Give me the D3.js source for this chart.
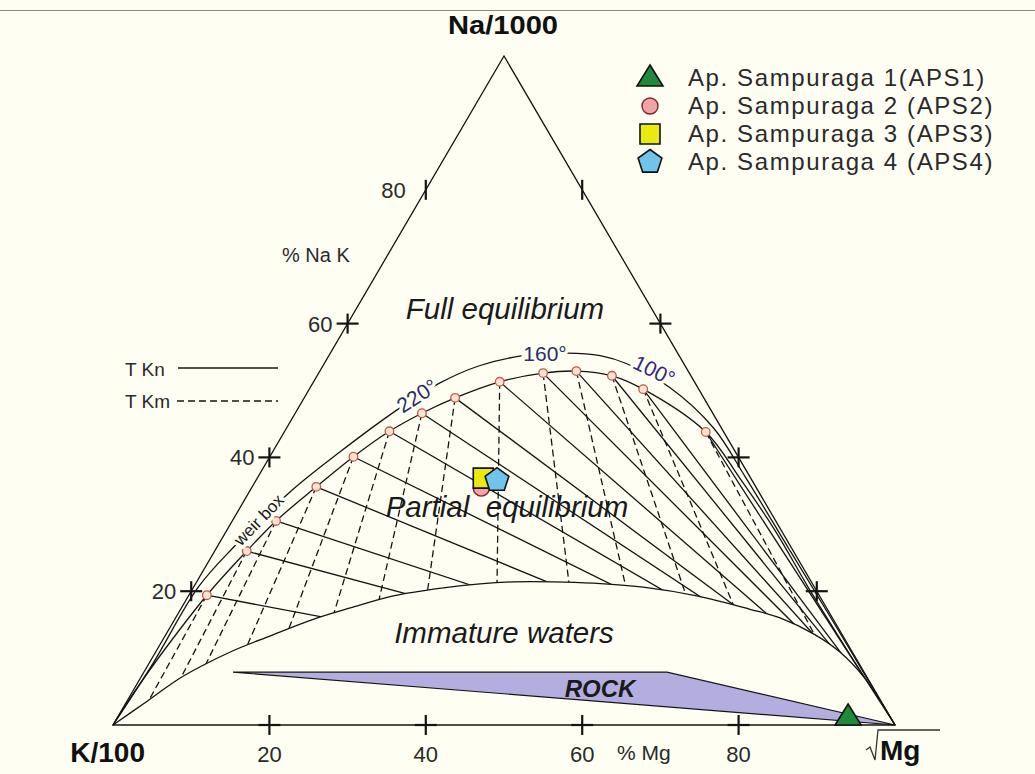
<!DOCTYPE html>
<html><head><meta charset="utf-8">
<script src="https://cdn.jsdelivr.net/npm/d3@7"></script>
<style>
body{margin:0;background:#fefef3;}
svg{display:block;font-family:"Liberation Sans",Arial,sans-serif;}
</style>
</head><body>
<svg id="chart" width="1035" height="774"></svg>
<script>
// ---------- data (ternary %: [Na, Mg], K = 100 - Na - Mg) ----------
const seriesNames = ["Ap. Sampuraga 1(APS1)", "Ap. Sampuraga 2 (APS2)", "Ap. Sampuraga 3 (APS3)", "Ap. Sampuraga 4 (APS4)"];
const sampleNa = [1.2, 35.4, 36.9, 36.6];
const sampleMg = [93.4, 29.4, 28.9, 30.8];
const sampleShapes = ["triangle", "circle", "square", "pentagon"];
const sampleFill = ["#1f8a3c", "#f4a3a3", "#eaea10", "#70c3ea"];

const tickValues = [20, 40, 60, 80];
const tickLabelsLeft = ["20", "40", "60", "80"];
const tickLabelsBottom = ["20", "40", "60", "80"];

// full equilibrium (T Kn / T Km grid nodes)
const eqMarkers = [
  [19.4, 2.3], [26.0, 4.1], [30.5, 5.6], [35.6, 8.2], [40.1, 10.7], [43.9, 13.4], [46.6, 16.2],
  [48.9, 19.3], [51.3, 23.8], [52.6, 28.7], [52.9, 32.8], [52.2, 37.7], [50.2, 42.7], [43.8, 53.9]
];
const eqCurveStart = [[0, 0], [2.8, 0.1], [5.4, 0.3], [10.8, 0.9]];
const eqCurveEnd = [[36.9, 61.7], [29.1, 70.1], [20.2, 79.0], [10.5, 89.0], [0, 100]];
// weir box curve
const weirCurve = [
  [0, 0], [9.0, 0.5], [20.6, 0.6], [26.5, 2.1], [34.8, 5.2], [40.8, 8.6], [47.4, 13.0], [51.1, 16.2],
  [53.7, 20.0], [55.2, 24.8], [55.6, 30.3], [55.2, 34.7], [54.0, 38.7], [50.5, 45.9], [44.4, 54.6],
  [36.9, 62.5], [26.2, 73.4], [16.4, 83.4], [8.2, 91.7], [0, 100]
];
// immature waters boundary
const immatureCurve = [
  [0, 0], [3.3, 2.4], [6.7, 4.8], [8.7, 6.8], [11.1, 9.8], [13.3, 13.4], [15.8, 17.7], [17.5, 21.6],
  [19.3, 26.2], [20.5, 32.0], [21.1, 36.4], [21.4, 40.5], [21.4, 45.6], [21.2, 50.8], [20.6, 57.5],
  [19.3, 65.0], [17.3, 72.8], [16.0, 77.3], [13.5, 83.0], [10.9, 87.5], [7.2, 92.4], [3.7, 96.2], [0, 100]
];
// rock dissolution field
const rockField = [[7.9, 11.4], [7.9, 66.9], [0, 100]];
// temperature labels on the weir box curve
const tempLabels = ["220°", "160°", "100°"];

// ---------- scales ----------
const svg = d3.select("#chart");
const BG = "#fefef3";
const xS = d3.scaleLinear().domain([0, 100]).range([113, 895]);
const yS = d3.scaleLinear().domain([0, 100]).range([725, 56]);
function T(p) {
  const na = p[0], mg = p[1], k = 100 - na - mg, s = na + mg + k;
  return [xS((mg + na / 2) * 100 / s), yS(na * 100 / s)];
}
const line = d3.line().x(d => T(d)[0]).y(d => T(d)[1]);
const curve = d3.line().x(d => T(d)[0]).y(d => T(d)[1]).curve(d3.curveCatmullRom.alpha(0.5));
const INK = "#141414";

svg.append("rect").attr("width", 1035).attr("height", 774).attr("fill", BG);
svg.append("line").attr("x1", 0).attr("x2", 1035).attr("y1", 10.5).attr("y2", 10.5)
  .attr("stroke", "#8a8a8a").attr("stroke-width", 1);

// clip: region above immature curve
const defs = svg.append("defs");
defs.append("clipPath").attr("id", "aboveImm").append("path")
  .attr("d", curve(immatureCurve) + "L" + T([100, 0]).join(",") + "Z");

// ---------- rock field ----------
svg.append("path").attr("d", line(rockField) + "Z")
  .attr("fill", "#b4aee0").attr("stroke", INK).attr("stroke-width", 1.2);

// ---------- isotherm grid ----------
const grid = svg.append("g").attr("clip-path", "url(#aboveImm)");
eqMarkers.forEach(m => {
  grid.append("path").attr("d", line([m, [0, 100]]))
    .attr("stroke", INK).attr("stroke-width", 1.3).attr("fill", "none");
  const k = 100 - m[0] - m[1];
  grid.append("path").attr("d", line([m, [0, 100 * m[1] / (m[1] + k)]]))
    .attr("stroke", INK).attr("stroke-width", 1.3).attr("fill", "none").attr("stroke-dasharray", "7,4");
});

// ---------- curves ----------
svg.append("path").attr("d", curve(immatureCurve)).attr("fill", "none").attr("stroke", INK).attr("stroke-width", 1.3);
svg.append("path").attr("d", curve(eqCurveStart.concat(eqMarkers, eqCurveEnd))).attr("fill", "none").attr("stroke", INK).attr("stroke-width", 1.3);
svg.append("path").attr("d", curve(weirCurve)).attr("fill", "none").attr("stroke", INK).attr("stroke-width", 1.3);

// ---------- triangle ----------
svg.append("path").attr("d", line([[0, 0], [100, 0], [0, 100]]) + "Z")
  .attr("fill", "none").attr("stroke", INK).attr("stroke-width", 1.3);

// ---------- ticks ----------
function cross(p, vertOnly) {
  const [x, y] = T(p);
  svg.append("line").attr("x1", x).attr("x2", x).attr("y1", y - 10).attr("y2", y + 10)
    .attr("stroke", INK).attr("stroke-width", 2.2);
  if (!vertOnly) svg.append("line").attr("x1", x - 11).attr("x2", x + 11).attr("y1", y).attr("y2", y)
    .attr("stroke", INK).attr("stroke-width", 2.2);
}
tickValues.forEach((v, i) => {
  cross([v, 0], v === 80);
  cross([v, 100 - v], v === 80);
  cross([0, v], false);
  const pl = T([v, 0]);
  svg.append("text").attr("x", pl[0] - (v === 80 ? 20 : 15)).attr("y", pl[1] + 8)
    .attr("text-anchor", "end").attr("font-size", 22).attr("fill", "#2a2a2a").text(tickLabelsLeft[i]);
  const pb = T([0, v]);
  svg.append("text").attr("x", pb[0]).attr("y", 762)
    .attr("text-anchor", "middle").attr("font-size", 22).attr("fill", "#2a2a2a").text(tickLabelsBottom[i]);
});

// ---------- grid node markers ----------
svg.append("g").selectAll("circle").data(eqMarkers).join("circle")
  .attr("cx", d => T(d)[0]).attr("cy", d => T(d)[1]).attr("r", 4.3)
  .attr("fill", "#fde4d8").attr("stroke", "#c9593b").attr("stroke-width", 1.3);

// ---------- curve labels (with halo to break the line) ----------
function halo(sel) {
  return sel.attr("stroke", BG).attr("stroke-width", 7).attr("paint-order", "stroke");
}
halo(svg.append("text").attr("transform", "translate(421,402) rotate(-33)").attr("text-anchor", "middle")
  .attr("font-size", 21).attr("fill", "#2c2c66").text(tempLabels[0]));
halo(svg.append("text").attr("transform", "translate(545,361)").attr("text-anchor", "middle")
  .attr("font-size", 21).attr("fill", "#2c2c66").text(tempLabels[1]));
halo(svg.append("text").attr("transform", "translate(651,377) rotate(26)").attr("text-anchor", "middle")
  .attr("font-size", 21).attr("fill", "#33287a").text(tempLabels[2]));
halo(svg.append("text").attr("transform", "translate(263,524) rotate(-46)").attr("text-anchor", "middle")
  .attr("font-size", 17).attr("fill", "#1a1a1a").text("weir box"));

// ---------- region labels ----------
svg.append("text").attr("x", 505).attr("y", 319).attr("text-anchor", "middle").attr("font-size", 29.5)
  .attr("font-style", "italic").attr("fill", "#1a1a1a").text("Full equilibrium");
svg.append("text").attr("x", 507).attr("y", 517).attr("text-anchor", "middle").attr("font-size", 29.5)
  .attr("font-style", "italic").attr("fill", "#1a1a1a").attr("xml:space", "preserve").text("Partial  equilibrium");
svg.append("text").attr("x", 504).attr("y", 643).attr("text-anchor", "middle").attr("font-size", 29.5)
  .attr("font-style", "italic").attr("fill", "#1a1a1a").text("Immature waters");
svg.append("text").attr("x", 600).attr("y", 697).attr("text-anchor", "middle").attr("font-size", 24)
  .attr("font-style", "italic").attr("font-weight", "bold").attr("fill", "#1a1a1a").text("ROCK");

// ---------- axis titles ----------
svg.append("text").attr("x", 503).attr("y", 34).attr("text-anchor", "middle").attr("font-size", 26)
  .attr("font-weight", "bold").attr("fill", "#111").attr("textLength", 110).attr("lengthAdjust", "spacingAndGlyphs").text("Na/1000");
svg.append("text").attr("x", 145).attr("y", 762).attr("text-anchor", "end").attr("font-size", 28)
  .attr("font-weight", "bold").attr("fill", "#111").text("K/100");
svg.append("text").attr("x", 880).attr("y", 760).attr("font-size", 28)
  .attr("font-weight", "bold").attr("fill", "#111").text("Mg");
svg.append("path").attr("d", "M866,750 L870,747 L875,760 L878,730 L940,730")
  .attr("fill", "none").attr("stroke", "#333").attr("stroke-width", 1.3);
svg.append("text").attr("x", 617).attr("y", 760).attr("font-size", 21).attr("fill", "#2a2a2a").text("% Mg");
svg.append("text").attr("x", 282).attr("y", 262).attr("font-size", 20).attr("fill", "#2a2a2a").text("% Na K");

// T Kn / T Km key
svg.append("text").attr("x", 125).attr("y", 376).attr("font-size", 19).attr("fill", "#2a2a2a").text("T Kn");
svg.append("line").attr("x1", 178).attr("x2", 278).attr("y1", 368).attr("y2", 368).attr("stroke", INK).attr("stroke-width", 1.3);
svg.append("text").attr("x", 125).attr("y", 408).attr("font-size", 19).attr("fill", "#2a2a2a").text("T Km");
svg.append("line").attr("x1", 177).attr("x2", 278).attr("y1", 401).attr("y2", 401).attr("stroke", INK)
  .attr("stroke-width", 1.3).attr("stroke-dasharray", "7,4");

// ---------- symbols ----------
function symPath(shape, x, y) {
  if (shape === "triangle") return `M${x},${y - 13} L${x + 13},${y + 8} L${x - 13},${y + 8} Z`;
  if (shape === "square") return `M${x - 10},${y - 10} h20 v20 h-20 Z`;
  if (shape === "pentagon") {
    const r = 12.5; let d = "";
    for (let i = 0; i < 5; i++) {
      const a = -Math.PI / 2 + i * 2 * Math.PI / 5;
      d += (i ? "L" : "M") + (x + r * Math.cos(a)) + "," + (y + r * Math.sin(a));
    }
    return d + "Z";
  }
  return d3.path().toString();
}
function drawSym(g, i, x, y) {
  if (sampleShapes[i] === "circle") {
    g.append("circle").attr("cx", x).attr("cy", y).attr("r", 8)
      .attr("fill", sampleFill[i]).attr("stroke", "#7a2a2a").attr("stroke-width", 1.4);
  } else {
    g.append("path").attr("d", symPath(sampleShapes[i], x, y))
      .attr("fill", sampleFill[i]).attr("stroke", "#111").attr("stroke-width", 1.6);
  }
}
const pts = svg.append("g");
sampleNa.forEach((na, i) => {
  const [x, y] = T([na, sampleMg[i]]);
  drawSym(pts, i, x, y);
});

// ---------- legend ----------
const leg = svg.append("g");
seriesNames.forEach((n, i) => {
  const y = 78 + i * 28;
  drawSym(leg, i, 650, y);
  leg.append("text").attr("x", 688).attr("y", y + 8).attr("font-size", 24).attr("fill", "#2a2a2a")
    .attr("letter-spacing", 1.6).text(n);
});
</script>
</body></html>
